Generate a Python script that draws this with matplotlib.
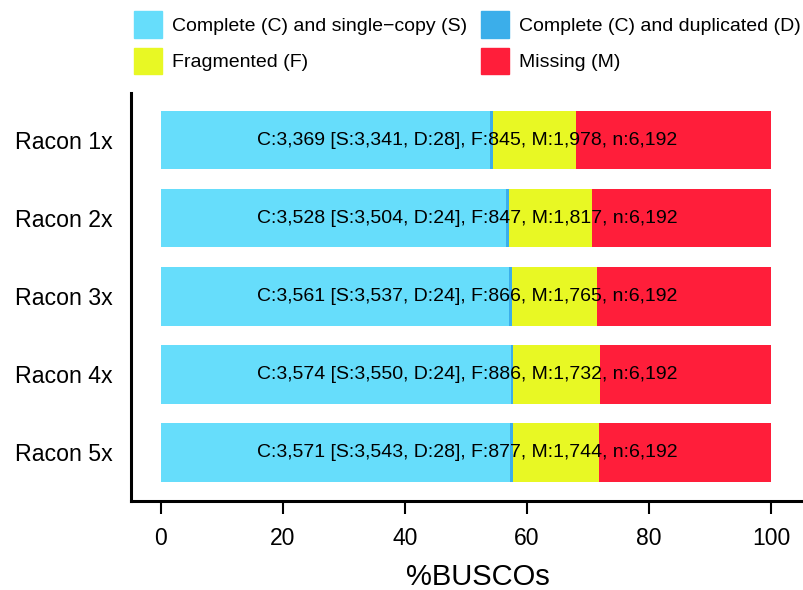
import matplotlib
matplotlib.use("Agg")
import matplotlib.pyplot as plt
from matplotlib.patches import Patch

plt.rcParams['font.family'] = ['Liberation Sans', 'DejaVu Sans']

labels = ["Racon 1x", "Racon 2x", "Racon 3x", "Racon 4x", "Racon 5x"]
single = [3341, 3504, 3537, 3550, 3543]
dup = [28, 24, 24, 24, 28]
frag = [845, 847, 866, 886, 877]
miss = [1978, 1817, 1765, 1732, 1744]
total = 6192

col_s = "#66DDFB"
col_d = "#3BAEEA"
col_f = "#E8F824"
col_m = "#FF1E3A"

fig = plt.figure(figsize=(8.04, 5.90), dpi=100)
ax = fig.add_axes([0.163, 0.151, 0.837, 0.691])

ys = list(range(len(labels)))
h = 0.75
s_p = [v / total * 100 for v in single]
d_p = [v / total * 100 for v in dup]
f_p = [v / total * 100 for v in frag]
m_p = [v / total * 100 for v in miss]
left = [0] * len(labels)
for vals, c in [(s_p, col_s), (d_p, col_d), (f_p, col_f), (m_p, col_m)]:
    ax.barh(ys, vals, height=h, left=left, color=c, linewidth=0)
    left = [a + b for a, b in zip(left, vals)]

for i in ys:
    txt = "C:{:,} [S:{:,}, D:{:,}], F:{:,}, M:{:,}, n:{:,}".format(
        single[i] + dup[i], single[i], dup[i], frag[i], miss[i], total)
    ax.text(50.2, i, txt, ha='center', va='center', fontsize=14, color='black')

ax.set_xlim(-4.9, 105.4)
ax.set_ylim(4.62, -0.6)
ax.set_yticks(ys)
ax.set_yticklabels(labels, fontsize=16.7)
ax.tick_params(axis='y', length=0, pad=13.5)
ax.set_xticks([0, 20, 40, 60, 80, 100])
ax.tick_params(axis='x', labelsize=16.5, length=9, width=1.5, pad=10, direction='out')
for sp in ['top', 'right']:
    ax.spines[sp].set_visible(False)
for sp in ['left', 'bottom']:
    ax.spines[sp].set_linewidth(2.2)
ax.set_xlabel("%BUSCOs", fontsize=21)
ax.xaxis.set_label_coords(0.516, -0.152)

handles = [Patch(color=col_s, label="Complete (C) and single\u2212copy (S)"),
           Patch(color=col_f, label="Fragmented (F)"),
           Patch(color=col_d, label="Complete (C) and duplicated (D)"),
           Patch(color=col_m, label="Missing (M)")]
fig.legend(handles=handles, ncol=2, loc='upper left', bbox_to_anchor=(134 / 804, 1 - 11 / 590),
           frameon=False, fontsize=14, handlelength=1.45, handleheight=1.75,
           labelspacing=0.5, columnspacing=0.7, handletextpad=0.5,
           borderpad=0, borderaxespad=0)

fig.savefig("out.png", dpi=100)
